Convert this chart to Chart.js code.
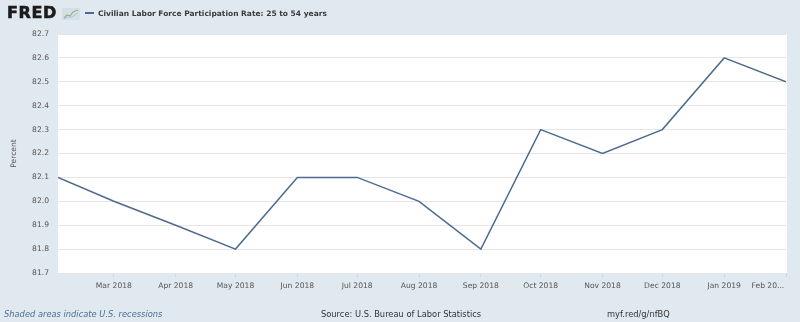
<!DOCTYPE html>
<html>
<head>
<meta charset="utf-8">
<script src="https://cdn.jsdelivr.net/npm/chart.js@4"></script>
<style>
  html, body { margin: 0; padding: 0; background: #e1e9f0; }
  #wrap { position: relative; width: 800px; height: 322px; overflow: hidden; font-family: "DejaVu Sans", sans-serif; }
  #chart { position: absolute; left: 0; top: 0; }
  .logo { position: absolute; left: 7px; top: 3px; font-family: "DejaVu Sans", sans-serif; font-weight: bold; font-size: 16px; letter-spacing: 0.6px; color: #1c1c1c; line-height: 20px; -webkit-text-stroke: 0.6px #1c1c1c; }
  .icon { position: absolute; left: 62px; top: 8px; }
  .title { position: absolute; left: 85px; top: 8px; font-size: 7.5px; font-weight: bold; color: #3a3a3a; line-height: 12px; }
  .title span { display: inline-block; width: 9px; height: 2px; background: #4a6a90; vertical-align: middle; margin-right: 4px; position: relative; top: -1px; }
  .foot { position: absolute; top: 308px; font-size: 8.3px; color: #333; line-height: 12px; }
</style>
</head>
<body>
<div id="wrap">
  <canvas id="chart" width="800" height="322"></canvas>
  <div class="logo">FRED</div>
  <svg class="icon" width="18" height="12" viewBox="0 0 18 12">
    <rect x="0" y="0" width="18" height="12" fill="#d6dfe7"/>
    <polyline points="2,10 5,7 8,8 11,4 16,2" fill="none" stroke="#8fb77a" stroke-width="1.2"/>
    <polyline points="2,11 6,9 9,9.5 13,7 16,5" fill="none" stroke="#b4c8da" stroke-width="1"/>
  </svg>
  <div class="title"><span></span>Civilian Labor Force Participation Rate: 25 to 54 years</div>
  <div class="foot" style="left:4px; font-style: italic; color:#4d6f93;">Shaded areas indicate U.S. recessions</div>
  <div class="foot" style="left:321px;">Source: U.S. Bureau of Labor Statistics</div>
  <div class="foot" style="left:607px;">myf.red/g/nfBQ</div>
</div>
<script>
// monthly observations
const months = ['2018-02-01', '2018-03-01', '2018-04-01', '2018-05-01', '2018-06-01', '2018-07-01',
  '2018-08-01', '2018-09-01', '2018-10-01', '2018-11-01', '2018-12-01', '2019-01-01', '2019-02-01'];
const rate = [82.1, 82.0, 81.9, 81.8, 82.1, 82.1, 82.0, 81.8, 82.3, 82.2, 82.3, 82.6, 82.5];

// x axis ticks
const tickDates = ['2018-03-01', '2018-04-01', '2018-05-01', '2018-06-01', '2018-07-01', '2018-08-01',
  '2018-09-01', '2018-10-01', '2018-11-01', '2018-12-01', '2019-01-01', '2019-02-01'];
const tickLabels = ['Mar 2018', 'Apr 2018', 'May 2018', 'Jun 2018', 'Jul 2018', 'Aug 2018',
  'Sep 2018', 'Oct 2018', 'Nov 2018', 'Dec 2018', 'Jan 2019', 'Feb 20...'];

const yMin = 81.7, yMax = 82.7;

const start = Date.parse(months[0]);
const dayOf = d => (Date.parse(d) - start) / 86400000;
const tickDays = tickDates.map(dayOf);

const whiteArea = {
  id: 'whiteArea',
  beforeDraw(chart) {
    const a = chart.chartArea, ctx = chart.ctx;
    ctx.save();
    ctx.fillStyle = '#ffffff';
    ctx.fillRect(a.left, a.top, a.right - a.left + 1, a.bottom - a.top);
    ctx.restore();
  }
};

const tickFont = { family: 'DejaVu Sans', size: 7.6 };

new Chart('chart', {
  type: 'line',
  data: {
    datasets: [{
      data: months.map((m, i) => ({ x: dayOf(m), y: rate[i] })),
      borderColor: '#4d6b8f',
      borderWidth: 1.5,
      pointRadius: 0,
      tension: 0,
      fill: false
    }]
  },
  options: {
    responsive: false,
    animation: false,
    layout: { padding: { top: 34, right: 14, bottom: 29, left: 0 } },
    plugins: { legend: { display: false }, tooltip: { enabled: false } },
    scales: {
      x: {
        type: 'linear',
        min: 0,
        max: dayOf(months[months.length - 1]),
        afterBuildTicks: axis => { axis.ticks = tickDays.map(v => ({ value: v })); },
        afterFit: axis => { axis.height = 20; axis.paddingLeft = 0; axis.paddingRight = 0; },
        grid: { drawOnChartArea: false, drawTicks: true, tickLength: 4, color: '#ccd6eb' },
        border: { display: false },
        ticks: {
          autoSkip: false,
          maxRotation: 0,
          padding: 4,
          color: '#555',
          font: tickFont,
          // last label sits inside the plot edge, as in the original
          callback: (v, i) => i === tickLabels.length - 1 ? tickLabels[i] + ' '.repeat(15) : tickLabels[i]
        }
      },
      y: {
        min: yMin,
        max: yMax,
        afterFit: axis => { axis.width = 58; axis.paddingTop = 0; axis.paddingBottom = 0; },
        grid: { color: '#e6e6e6', drawTicks: false },
        border: { display: false },
        ticks: {
          stepSize: 0.1,
          padding: 9,
          color: '#555',
          font: tickFont,
          callback: v => v.toFixed(1)
        },
        title: {
          display: true,
          text: 'Percent',
          color: '#555',
          font: tickFont,
          padding: { top: 9, bottom: 0 }
        }
      }
    }
  },
  plugins: [whiteArea]
});
</script>
</body>
</html>
